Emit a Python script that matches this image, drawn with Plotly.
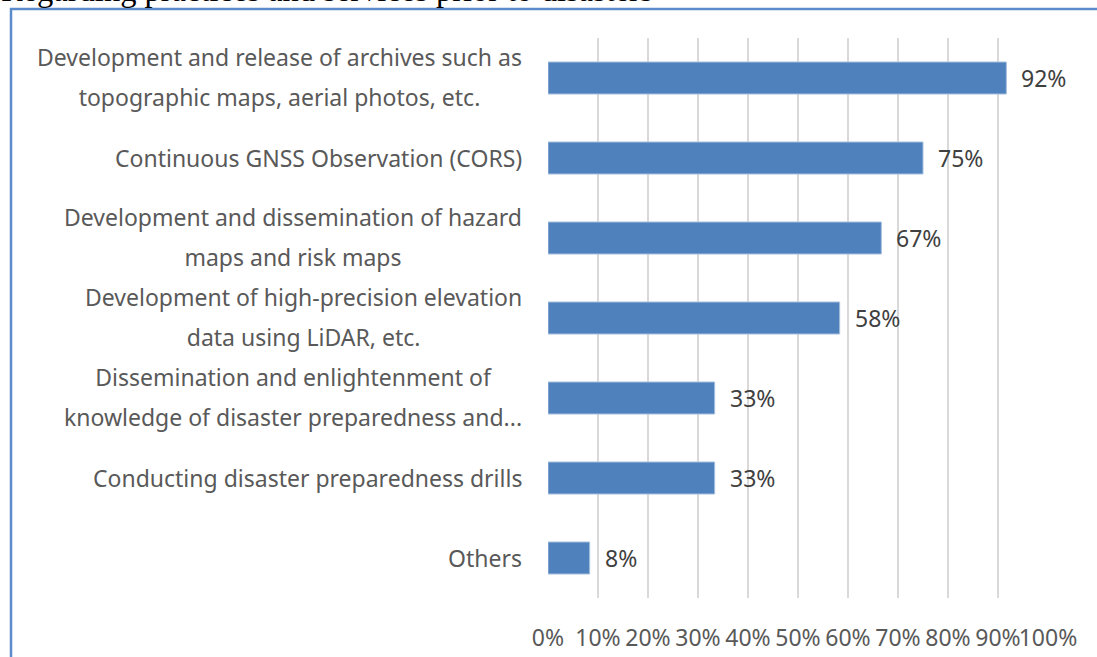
import plotly.graph_objects as go

categories = [
    "Development and release of archives such as|topographic maps, aerial photos, etc.",
    "Continuous GNSS Observation (CORS)",
    "Development and dissemination of hazard|maps and risk maps",
    "Development of high-precision elevation|data using LiDAR, etc.",
    "Dissemination and enlightenment of|knowledge of disaster preparedness and...",
    "Conducting disaster preparedness drills",
    "Others",
]
values = [11/12, 9/12, 8/12, 7/12, 4/12, 4/12, 1/12]
tick_vals = [i / 10 for i in range(11)]
tick_labels = [f"{i*10}%" for i in range(11)]
title_text = "Regarding practices and services prior to disasters"

W, H = 1097, 657
L, R, T, B = 548, 49, 38, 59
FONT = "Noto Sans"
TXT = "#595959"
FS = 23

fig = go.Figure()
fig.add_trace(go.Bar(
    x=values, y=categories, orientation="h",
    marker=dict(color="#4F81BD", line=dict(color="#A7C0DE", width=1)),
    width=0.4, hoverinfo="skip",
))

annotations = []
for cat in categories:
    parts = cat.split("|")
    if len(parts) == 1:
        annotations.append(dict(
            x=0, y=cat, xref="x", yref="y", xanchor="right", yanchor="middle",
            xshift=-24, text=parts[0], showarrow=False,
            font=dict(family=FONT, size=FS, color=TXT), align="center"))
    else:
        l1, l2 = parts
        hid = "<span style='color:rgba(0,0,0,0)'>%s</span>"
        annotations.append(dict(
            x=0, y=cat, xref="x", yref="y", xanchor="right", yanchor="middle",
            xshift=-24, yshift=6, text=l1 + "<br>" + (hid % l2), showarrow=False,
            font=dict(family=FONT, size=FS, color=TXT), align="center"))
        annotations.append(dict(
            x=0, y=cat, xref="x", yref="y", xanchor="right", yanchor="middle",
            xshift=-24, yshift=-4, text=(hid % l1) + "<br>" + l2, showarrow=False,
            font=dict(family=FONT, size=FS, color=TXT), align="center"))

for cat, v in zip(categories, values):
    annotations.append(dict(
        x=v, y=cat, xref="x", yref="y", xanchor="left", yanchor="middle",
        xshift=13, text=f"{round(v*100)}%", showarrow=False,
        font=dict(family=FONT, size=FS, color="#404040")))

plot_h = H - T - B
plot_w = W - L - R
def py(p):
    return (H - B - p) / plot_h
def px(p):
    return (p - L) / plot_w

annotations.append(dict(
    x=px(-1), y=py(-10), xref="paper", yref="paper", xanchor="left", yanchor="middle",
    text=title_text, showarrow=False,
    font=dict(family="Liberation Serif", size=32.5, color="#000000")))

fig.update_layout(
    width=W, height=H,
    margin=dict(l=L, r=R, t=T, b=B, autoexpand=False),
    paper_bgcolor="white", plot_bgcolor="white",
    showlegend=False,
    annotations=annotations,
    shapes=[dict(type="rect", xref="paper", yref="paper",
                 x0=px(11), x1=px(1300), y0=py(900), y1=py(9),
                 line=dict(color="#5B8BCB", width=2.5), layer="below")],
    xaxis=dict(range=[0, 1], tickvals=tick_vals, ticktext=tick_labels, tickangle=0,
               automargin=False,
               showgrid=True, gridcolor="#D9D9D9", gridwidth=2, zeroline=False,
               showline=False, ticks="outside", ticklen=19, tickcolor="rgba(0,0,0,0)",
               tickfont=dict(family=FONT, size=FS, color=TXT), fixedrange=True),
    yaxis=dict(autorange="reversed", showticklabels=False, showgrid=False,
               automargin=False,
               zeroline=False, showline=False, fixedrange=True),
)

fig.write_html("out.html", config={"displayModeBar": False},
               post_script="document.body.style.margin='0';document.body.style.overflow='hidden';")
